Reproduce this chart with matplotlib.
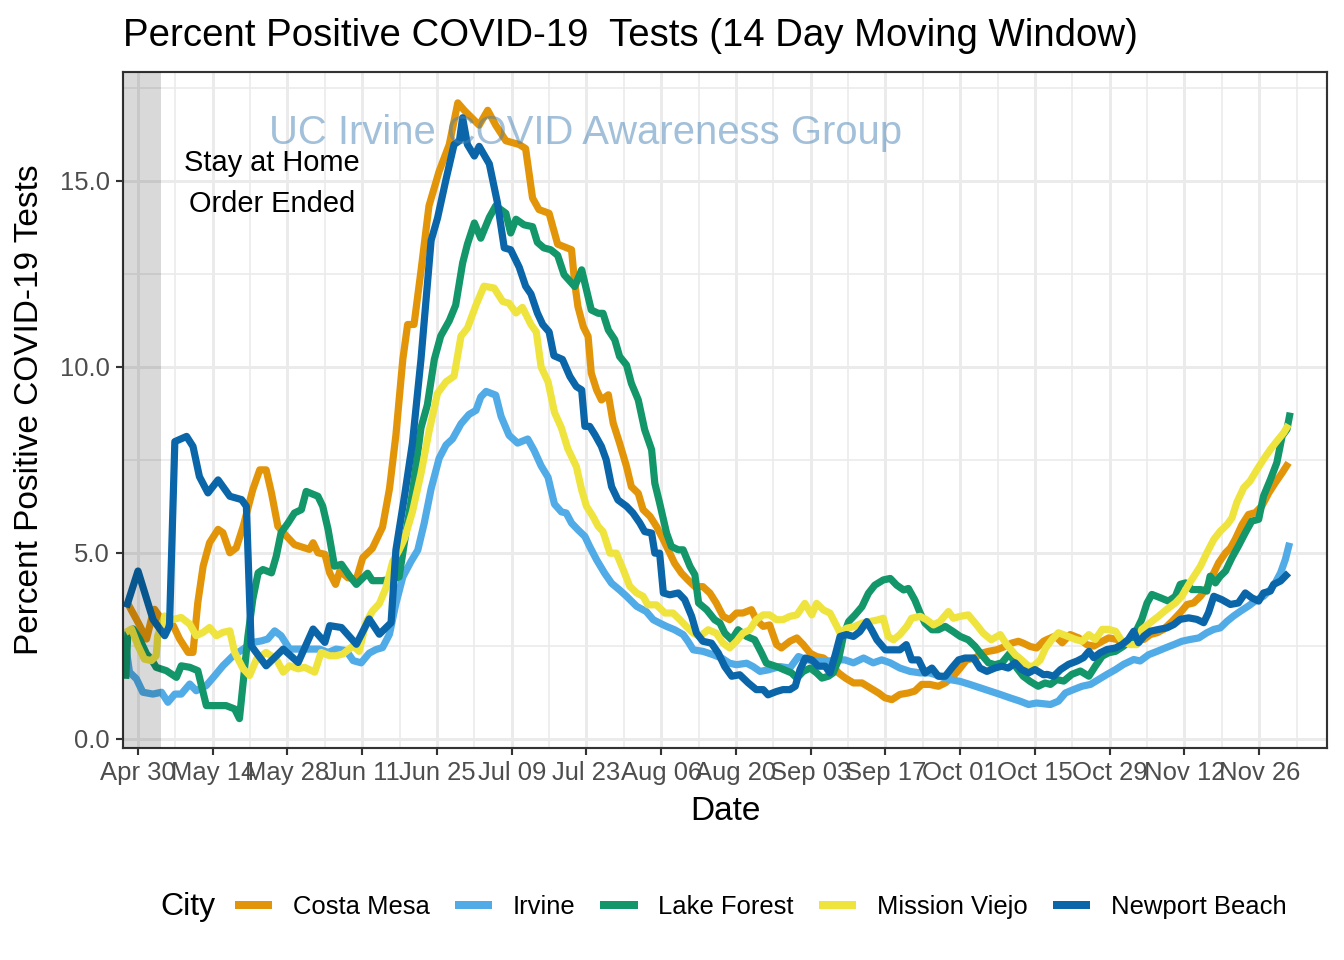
import numpy as np
import pandas as pd
import matplotlib
matplotlib.use('Agg')
import matplotlib.pyplot as plt
import matplotlib.dates as mdates
from matplotlib.lines import Line2D
from matplotlib.ticker import FixedLocator

plt.rcParams['font.family'] = ['Liberation Sans', 'DejaVu Sans']

# days are counted from Apr 30 2020 (first labelled tick)
BASE = pd.Timestamp('2020-04-30')
ORDER_END = pd.Timestamp('2020-05-04 06:00')

cities = ['Costa Mesa', 'Irvine', 'Lake Forest', 'Mission Viejo', 'Newport Beach']
city_colors = ['#E3950A', '#50ABE6', '#12966A', '#EFE33E', '#0A66A8']

costa_mesa_day = [-2.2, 0, 1.6, 2.5, 3.1, 4.4, 6.6, 7.8, 9.4, 10.3, 11.2, 12.2, 13.4, 15.0, 15.9,
                  17.2, 18.4, 19.7, 20.6, 21.5, 22.8, 24.0, 25.0, 26.2, 27.8, 29.3, 31.2, 32.1,
                  32.8, 33.7, 35.0, 35.9, 37.0, 37.8, 39.3, 40.9,
                  42.1, 43.9, 45.8, 47.1, 48.3, 49.6, 50.5, 51.7, 53.0, 54.5, 56.4, 58.3, 59.9,
                  61.1, 63.9, 65.5, 67.0, 68.9, 71.4, 72.6, 73.9, 75.1, 77.0, 78.6,
                  81.2, 81.8, 82.4, 83.4, 84.3, 84.9, 85.9, 86.8, 88.1, 89.0, 90.2, 91.5, 92.4,
                  93.7, 94.6, 95.9, 97.1, 98.4, 99.6, 100.5, 101.8, 103.0, 104.3, 105.8, 107.1,
                  108.3, 109.6, 110.8, 112.1, 113.3, 114.9, 115.8, 117.1, 118.3, 119.6, 120.5,
                  122.1, 123.4, 124.6, 125.9, 127.1, 128.4, 129.9, 131.2, 132.5, 134.0, 135.6,
                  137.1, 138.7, 139.9, 141.2, 142.7, 144.3, 145.5, 146.8, 148.3, 149.9, 151.2,
                  152.7, 154.0, 155.2, 156.8, 158.0, 159.3, 160.8, 162.4, 163.6, 164.9, 165.8,
                  167.1, 168.3, 169.6, 170.3, 171.8, 173.1, 174.6, 176.2, 177.7, 179.0, 180.6,
                  181.8, 183.4, 184.6, 185.9, 187.1, 188.4, 189.6, 190.9, 192.1, 193.7, 195.2,
                  196.5, 197.7, 199.0, 200.2, 201.2, 202.4, 203.7, 204.6, 205.5, 206.8, 208.0,
                  209.3, 210.5, 211.8, 213.0, 214.3, 215.5]
costa_mesa_pct = [3.71, 3.13, 2.68, 3.21, 3.48, 3.21, 3.04, 2.68, 2.32, 2.32, 3.66, 4.64, 5.27, 5.63,
                  5.54, 5.0, 5.13, 5.71, 6.21, 6.7, 7.23, 7.23, 6.61, 5.71, 5.45, 5.22, 5.13, 5.09,
                  5.27, 5.0, 4.96, 4.46, 4.15, 4.51, 4.33, 4.29,
                  4.87, 5.12, 5.69, 6.72, 8.16, 10.2, 11.14, 11.14, 12.58, 14.33, 15.26, 15.98,
                  17.1, 16.9, 16.5, 16.9, 16.5, 16.08, 15.98, 15.87, 14.54, 14.23, 14.13, 13.3,
                  13.15, 12.25, 11.62, 11.08, 10.82, 9.83, 9.38, 9.11, 9.25, 8.49, 7.95, 7.32,
                  6.78, 6.6, 6.16, 5.98, 5.71, 5.35, 4.99, 4.72, 4.45, 4.27, 4.09, 4.09, 3.92,
                  3.65, 3.29, 3.2, 3.38, 3.38, 3.47, 3.2, 3.02, 3.06, 2.53, 2.44,
                  2.62, 2.71, 2.53, 2.3, 2.21, 2.17, 1.99, 1.77, 1.63, 1.5, 1.5,
                  1.37, 1.23, 1.1, 1.05, 1.19, 1.23, 1.28, 1.46, 1.46, 1.41, 1.5,
                  1.68, 1.9, 2.12, 2.17, 2.3, 2.35, 2.39, 2.48, 2.57, 2.62, 2.57,
                  2.48, 2.44, 2.62, 2.67, 2.76, 2.58, 2.8, 2.71, 2.53, 2.49, 2.62,
                  2.71, 2.67, 2.53, 2.67, 2.71, 2.67, 2.8, 2.85, 2.94, 3.16, 3.39,
                  3.61, 3.65, 3.83, 4.06, 4.37, 4.73, 5.0, 5.13, 5.36, 5.76, 6.03,
                  6.08, 6.26, 6.61, 6.88, 7.15, 7.42]

irvine_day = [-2.3, -1.6, -0.3, 0.9, 2.8, 4.4, 5.6, 6.9, 8.1, 9.7, 10.9, 12.8, 14.4, 15.9, 17.8,
              19.7, 21.5, 23.1, 24.3, 25.6, 26.8, 28.4, 30.3, 32.1, 34.0, 35.6, 37.1, 39.0, 40.3,
              41.8, 43.3, 44.6, 45.8, 47.1, 48.3, 49.6, 51.1, 52.4, 53.6, 54.9, 56.4, 57.7, 58.9,
              60.5, 62.0, 63.3, 64.2, 65.2, 67.0, 68.0, 69.5, 71.1, 73.0, 74.2, 75.5, 76.8, 78.0,
              79.3, 80.2, 81.2, 82.4, 83.7, 84.6, 85.9, 87.4, 88.7, 90.2, 91.5, 93.4, 95.2, 96.5,
              97.7, 99.0, 100.5, 102.1, 103.0, 104.0, 105.8, 107.7, 109.3, 110.8, 112.1, 114.0,
              115.2, 116.5, 118.0, 120.2, 122.1, 123.7, 125.3, 127.1, 129.0, 130.9, 132.4, 134.0,
              135.9, 137.7, 139.3, 140.9, 142.7, 144.6, 146.5, 148.3, 150.2, 152.1, 154.0, 155.8,
              157.7, 159.6, 161.5, 163.3, 165.2, 166.8, 168.3, 170.9, 172.4, 173.7, 175.2, 176.8,
              178.4, 179.9, 181.5, 183.1, 184.6, 186.5, 187.7, 189.3, 190.9, 192.4, 194.0, 195.5,
              197.1, 198.7, 200.2, 201.5, 202.7, 204.0, 205.2, 206.5, 208.0, 209.6, 210.8, 212.1,
              213.0, 214.0, 214.9, 215.7]
irvine_pct = [2.5, 1.79, 1.61, 1.25, 1.2, 1.25, 0.98, 1.2, 1.2, 1.47, 1.29, 1.43, 1.7, 1.96, 2.23,
              2.41, 2.59, 2.63, 2.68, 2.9, 2.77, 2.41, 2.41, 2.41, 2.41, 2.32, 2.41, 2.37, 2.1,
              2.04, 2.3, 2.4, 2.45, 2.81, 3.63, 4.35, 4.76, 5.07, 5.79, 6.72, 7.54, 7.9, 8.06,
              8.47, 8.72, 8.83, 9.19, 9.34, 9.24, 8.67, 8.16, 7.95, 8.06, 7.75, 7.34, 7.03, 6.31,
              6.1, 6.07, 5.8, 5.62, 5.44, 5.17, 4.81, 4.45, 4.18, 4.0, 3.83, 3.56, 3.42, 3.2,
              3.11, 3.02, 2.93, 2.8, 2.62, 2.39, 2.35, 2.26, 2.17, 2.03, 1.99, 2.03,
              1.94, 1.81, 1.85, 1.94, 1.9, 2.21, 2.12, 2.08, 2.08, 2.12, 2.12, 2.04,
              2.17, 2.04, 2.12, 2.04, 1.9, 1.81, 1.77, 1.77, 1.68, 1.59, 1.54, 1.46,
              1.37, 1.28, 1.19, 1.1, 1.01, 0.92, 0.96, 0.92, 1.01, 1.23, 1.32, 1.41,
              1.46, 1.59, 1.73, 1.86, 2.0, 2.13, 2.09, 2.26, 2.35, 2.44, 2.53, 2.62,
              2.67, 2.71, 2.85, 2.94, 2.98, 3.16, 3.3, 3.43, 3.57, 3.74, 3.83, 4.01,
              4.19, 4.46, 4.82, 5.27]

lake_forest_day = [-2.3, -1.9, -0.9, 0.3, 1.6, 2.5, 3.4, 5.3, 7.2, 8.1, 9.7, 11.2, 12.8, 14.7,
                   16.5, 18.1, 19.0, 19.7, 20.6, 21.5, 22.5, 23.4, 25.0, 25.9, 26.8, 28.1, 29.3,
                   30.6, 31.5, 33.7, 34.6, 35.6, 36.8, 38.1, 39.6, 40.9,
                   43.0, 43.9, 45.8, 47.7, 48.9, 49.9, 51.4, 53.0, 54.2, 55.5, 56.7, 58.3, 59.5,
                   60.8, 61.7, 63.0, 64.2, 65.8, 67.0, 68.9, 69.8, 70.8, 72.3, 73.9, 74.8, 76.0,
                   77.3, 78.6, 79.8, 81.8, 83.1, 84.0, 84.9, 86.2, 87.1, 88.1, 89.3, 90.2, 91.5,
                   92.4, 93.7, 94.9, 96.2, 96.8, 97.7, 99.0, 99.9, 101.2, 102.1, 103.4, 104.3,
                   105.0, 106.5, 108.0, 109.0, 109.9, 111.2, 112.4, 114.0, 115.5, 116.8, 117.7,
                   119.6, 121.1, 122.4, 123.4, 124.6, 125.9, 127.1, 128.1, 129.3, 130.2, 131.2,
                   132.1, 133.1, 134.3, 135.6, 136.8, 138.0, 139.6, 140.9, 142.1, 143.4, 144.3,
                   145.5, 146.5, 147.4, 148.7, 149.9, 151.2, 152.7, 154.0, 155.5, 156.8, 158.0,
                   159.3, 160.5, 161.8, 163.3, 164.6, 165.8, 167.1, 168.6, 169.9, 170.9, 172.1,
                   173.4, 174.9, 176.5, 178.1, 179.3, 180.6, 181.8, 183.1, 184.6, 185.9, 187.1,
                   188.0, 189.0, 189.9, 191.5, 193.0, 194.3, 195.2, 196.2, 197.4, 199.0, 200.2,
                   200.8, 201.8, 202.7, 203.7, 204.9, 206.1, 207.4, 208.6, 209.9, 210.8, 212.1,
                   213.3, 214.3, 215.2, 215.8]
lake_forest_pct = [1.61, 2.86, 2.95, 2.68, 2.28, 2.14, 1.92, 1.83, 1.65, 1.96, 1.92, 1.83, 0.89,
                   0.89, 0.89, 0.8, 0.54, 1.52, 2.77, 3.75, 4.46, 4.55, 4.46, 4.91, 5.54, 5.8,
                   6.07, 6.16, 6.65, 6.52, 6.25, 5.63, 4.64, 4.69, 4.38, 4.15,
                   4.45, 4.25, 4.25, 4.3, 4.35, 5.28, 6.62, 8.36, 8.98, 10.2, 10.83, 11.24, 11.66,
                   12.79, 13.3, 13.87, 13.46, 14.02, 14.33, 14.13, 13.6, 13.97, 13.82, 13.77,
                   13.35, 13.2, 13.15, 13.0, 12.48, 12.16, 12.61, 12.07, 11.53, 11.44, 11.44,
                   10.99, 10.73, 10.28, 10.05, 9.56, 9.11, 8.31, 7.77, 6.87, 6.34, 5.53, 5.17,
                   5.08, 5.08, 4.63, 4.41, 3.65, 3.47, 3.2, 3.11, 2.84, 2.66, 2.93, 2.75, 2.66,
                   2.3, 2.03, 1.94, 1.85, 1.77, 1.63, 1.81, 1.9, 1.77, 1.63, 1.68, 1.77, 2.12,
                   2.75, 3.15, 3.33, 3.55, 3.91, 4.13, 4.27, 4.31, 4.13, 4.0, 4.04, 3.73, 3.38,
                   3.11, 2.93, 2.93, 3.02, 2.88, 2.75, 2.66, 2.48, 2.26, 2.04, 1.99, 2.04, 2.3,
                   1.9, 1.68, 1.54, 1.41, 1.5, 1.46, 1.59, 1.55, 1.73, 1.82, 1.68, 1.95, 2.22,
                   2.31, 2.35, 2.49, 2.67, 2.94, 3.21, 3.65, 3.88, 3.79, 3.7, 3.83, 4.15, 4.19,
                   4.01, 4.01, 3.97, 4.37, 4.19, 4.37, 4.51, 4.87, 5.18, 5.54, 5.85, 5.9, 6.52,
                   6.97, 7.42, 8.14, 8.32, 8.77]

mission_viejo_day = [-2.3, -1.2, 0, 1.2, 2.5, 3.4, 3.7, 5.0, 6.6, 8.1, 9.7, 10.9, 12.2, 13.4, 14.7,
                     15.9, 17.2, 18.1, 19.7, 20.9, 22.2, 24.0, 25.9, 27.2, 28.4, 30.0, 31.2, 33.1,
                     34.3, 35.9, 37.1, 38.4, 40.3,
                     41.4, 42.7, 43.9, 45.2, 46.4, 47.7, 48.9, 49.9, 51.4, 53.0, 54.5, 56.1, 57.7,
                     59.2, 60.5, 61.7, 63.3, 64.8, 66.7, 68.3, 69.5, 70.8, 72.0, 73.6, 74.6, 75.5,
                     76.8, 78.0, 79.3, 80.5, 82.1, 83.1, 84.0, 85.2, 86.2, 87.1, 88.4, 89.6, 90.9,
                     92.1, 93.4, 94.6, 95.5, 97.1, 98.7, 100.2, 101.5, 102.7, 104.0, 105.2, 106.8,
                     108.3, 109.6, 110.8, 112.1, 113.3, 114.6, 115.8, 117.1, 118.3, 119.6, 120.8,
                     122.1, 123.4, 124.9, 126.2, 127.1, 128.4, 129.6, 130.9, 131.5, 132.7, 134.3,
                     135.6, 137.1, 138.7, 139.6, 140.5, 141.5, 142.7, 144.0, 144.9, 146.5, 147.7,
                     149.0, 150.2, 151.8, 152.7, 154.0, 155.5, 156.8, 158.3, 159.8, 161.5, 162.7,
                     164.3, 165.5, 166.8, 167.7, 169.0, 170.0, 171.2, 172.4, 174.0, 175.6, 176.8,
                     178.1, 179.3, 180.6, 181.8, 183.1, 184.3, 185.9, 187.1, 188.0, 189.6, 191.2,
                     192.7, 194.3, 195.5, 196.8, 198.0, 199.0, 200.2, 201.5, 202.7, 204.0, 204.9,
                     205.8, 207.1, 208.3, 209.6, 210.8, 212.1, 213.3, 214.6, 215.5]
mission_viejo_pct = [2.86, 2.95, 2.5, 2.14, 2.1, 2.23, 2.77, 3.3, 3.21, 3.26, 3.08, 2.77, 2.86, 2.99,
                     2.77, 2.86, 2.9, 2.32, 1.88, 1.7, 2.14, 2.32, 2.14, 1.79, 1.96, 1.88, 1.92,
                     1.79, 2.32, 2.23, 2.23, 2.28, 2.5,
                     2.35, 3.12, 3.43, 3.63, 4.04, 4.76, 5.07, 5.38, 6.1, 7.13, 8.26, 9.29, 9.6,
                     9.75, 10.83, 11.04, 11.66, 12.17, 12.12, 11.76, 11.71, 11.45, 11.6, 11.14,
                     10.94, 10.0, 9.6, 8.78, 8.36, 7.8, 7.32, 6.69, 6.25, 5.98, 5.71, 5.57, 4.99,
                     4.99, 4.54, 4.1, 3.92, 3.83, 3.6, 3.6, 3.38, 3.38, 3.2, 3.02, 2.84, 2.75,
                     2.93, 2.84, 2.57, 2.44, 2.62, 2.84, 2.93, 3.2, 3.33, 3.33, 3.2, 3.2,
                     3.29, 3.33, 3.64, 3.33, 3.64, 3.46, 3.38, 3.02, 2.84, 2.97, 3.02,
                     3.11, 3.15, 3.2, 3.24, 2.75, 2.66, 2.8, 3.02, 3.24, 3.29, 3.2,
                     3.06, 3.15, 3.42, 3.24, 3.29, 3.33, 3.11, 2.84, 2.66, 2.8, 2.53,
                     2.26, 2.12, 1.95, 1.95, 2.12, 2.44, 2.67, 2.85, 2.76, 2.67, 2.62,
                     2.8, 2.67, 2.94, 2.94, 2.89, 2.62, 2.53, 2.53, 2.94, 3.12, 3.3,
                     3.48, 3.65, 3.83, 4.15, 4.42, 4.64, 5.0, 5.36, 5.58, 5.76, 5.94,
                     6.35, 6.75, 6.93, 7.24, 7.51, 7.78, 8.0, 8.23, 8.45]

newport_beach_day = [-2.2, 0, 2.8, 5.0, 5.9, 6.9, 9.1, 10.3, 11.5, 13.1, 15.0, 17.2, 19.4, 20.3,
                     21.2, 24.0, 27.2, 30.0, 32.8, 35.0, 35.9, 38.1, 40.9,
                     43.3, 45.2, 47.4, 48.3, 49.9, 51.4, 53.0, 54.9, 56.1, 57.7, 59.2, 60.2, 60.8,
                     61.7, 63.0, 63.9, 65.8, 67.3, 68.6, 69.8, 71.4, 72.6, 73.6, 74.8, 75.8, 77.0,
                     77.9, 79.5, 80.9, 82.1, 83.1, 83.7, 84.6, 85.6, 86.8, 87.7, 88.7, 89.9, 91.5,
                     92.7, 94.0, 94.9, 96.2, 96.8, 97.7, 98.4, 99.6, 101.2, 102.4, 103.7, 104.6,
                     105.8, 107.4, 108.7, 109.9, 111.2, 112.7, 114.3, 115.8, 117.1, 118.0, 119.6,
                     120.8, 122.1, 123.1, 124.0, 125.0, 126.2, 127.4, 128.7, 129.6, 130.6, 131.5,
                     132.7, 134.0, 135.2, 136.5, 137.4, 138.4, 140.0, 141.2, 142.7, 143.9, 144.9,
                     146.2, 147.4, 148.7, 149.9, 151.2, 152.4, 153.7, 154.9, 156.5, 157.7, 159.0,
                     160.5, 161.8, 163.0, 164.3, 165.5, 166.8, 168.0, 169.6, 170.3, 171.5, 172.8,
                     174.3, 175.9, 177.1, 178.1, 179.0, 180.2, 181.5, 183.1, 184.3, 185.5, 186.5,
                     187.4, 188.4, 189.6, 191.2, 192.7, 194.0, 195.2, 196.8, 198.3, 199.6, 200.5,
                     201.5, 203.0, 204.6, 206.1, 207.4, 208.6, 209.9, 210.8, 212.1, 212.7, 214.0,
                     215.5]
newport_beach_pct = [3.53, 4.51, 3.21, 2.77, 3.04, 7.99, 8.13, 7.86, 7.05, 6.61, 6.96, 6.52, 6.43,
                     6.25, 2.5, 1.96, 2.41, 2.05, 2.95, 2.59, 3.04, 2.99, 2.54,
                     3.22, 2.81, 3.12, 5.07, 6.51, 7.95, 10.2, 13.4, 14.0, 15.05, 15.98, 16.08,
                     16.7, 15.98, 15.67, 15.93, 15.46, 14.43, 13.2, 13.15, 12.68, 12.17, 11.96,
                     11.45, 11.14, 10.94, 10.3, 10.2, 9.74, 9.47, 9.38, 8.4, 8.4, 8.17, 7.86, 7.5,
                     6.78, 6.42, 6.25, 6.07, 5.8, 5.57, 5.53, 4.99, 4.99, 3.92, 3.87, 3.92, 3.74,
                     3.29, 2.84, 2.62, 2.57, 2.3, 1.94, 1.68, 1.72, 1.5, 1.32, 1.32, 1.18, 1.27,
                     1.32, 1.32, 1.41, 1.86, 2.17, 2.12, 1.95, 1.95, 1.77, 2.26, 2.75,
                     2.8, 2.75, 2.88, 3.15, 2.93, 2.66, 2.39, 2.39, 2.39, 2.53, 2.12,
                     2.12, 1.77, 1.9, 1.68, 1.68, 1.9, 2.12, 2.17, 2.17, 1.9, 1.81,
                     1.9, 1.95, 1.9, 2.04, 1.86, 1.77, 1.86, 1.72, 1.73, 1.68, 1.86,
                     2.0, 2.09, 2.18, 2.35, 2.18, 2.31, 2.4, 2.44, 2.53, 2.67, 2.89,
                     2.58, 2.76, 2.89, 2.94, 2.98, 3.07, 3.21, 3.25, 3.21, 3.12, 3.39,
                     3.83, 3.74, 3.61, 3.65, 3.92, 3.79, 3.7, 3.92, 3.97, 4.15, 4.24,
                     4.46]

series_days = [costa_mesa_day, irvine_day, lake_forest_day, mission_viejo_day, newport_beach_day]
series_pct = [costa_mesa_pct, irvine_pct, lake_forest_pct, mission_viejo_pct, newport_beach_pct]


def to_dates(days):
    return (BASE + pd.to_timedelta(np.asarray(days, dtype=float), unit='D')).to_numpy()


fig = plt.figure(figsize=(7, 5), dpi=192)
ax = fig.add_axes([123 / 1344, 1 - 748 / 960, 1204 / 1344, 676 / 960])

for days, pct, color in zip(series_days, series_pct, city_colors):
    ax.plot(to_dates(days), pct, color=color, lw=2.7, solid_joinstyle='round',
            solid_capstyle='butt', zorder=2)

x_left = BASE + pd.Timedelta(days=-2.81)
x_right = BASE + pd.Timedelta(days=222.7)
ax.set_xlim(x_left, x_right)
ax.set_ylim(-0.25, 17.93)

# shaded stay-at-home period, drawn over the lines like the original
ax.axvspan(x_left, ORDER_END, color='black', alpha=0.15, lw=0, zorder=3)

major_dates = pd.date_range('2020-04-30', '2020-11-26', freq='14D')
minor_dates = pd.date_range('2020-05-07', '2020-12-03', freq='14D')
ax.xaxis.set_major_locator(FixedLocator(mdates.date2num(major_dates.to_pydatetime())))
ax.xaxis.set_minor_locator(FixedLocator(mdates.date2num(minor_dates.to_pydatetime())))
ax.xaxis.set_major_formatter(mdates.DateFormatter('%b %d'))
ax.set_yticks([0, 5, 10, 15])
ax.set_yticklabels(['0.0', '5.0', '10.0', '15.0'])
ax.set_yticks([2.5, 7.5, 12.5, 17.5], minor=True)

ax.grid(which='major', color='#EBEBEB', lw=1.1, zorder=0)
ax.grid(which='minor', color='#EBEBEB', lw=0.6, zorder=0)
ax.set_axisbelow(True)
for s in ax.spines.values():
    s.set_color('#333333')
    s.set_linewidth(0.8)
ax.tick_params(which='major', length=2.75, width=0.8, color='#333333', labelcolor='#4D4D4D',
               labelsize=9.6, pad=2.2)
ax.tick_params(which='minor', length=0)

ax.text(BASE + pd.Timedelta(days=25.1), 15.28, 'Stay at Home', ha='center', va='baseline',
        fontsize=10.9, color='black', zorder=5)
ax.text(BASE + pd.Timedelta(days=25.1), 14.17, 'Order Ended', ha='center', va='baseline',
        fontsize=10.9, color='black', zorder=5)
ax.text(BASE + pd.Timedelta(days=83.8), 16.0, 'UC Irvine COVID Awareness Group', ha='center',
        va='baseline', fontsize=15, color='steelblue', alpha=0.5, zorder=5)

fig.text(123 / 1344, 1 - 46 / 960, 'Percent Positive COVID-19  Tests (14 Day Moving Window)',
         ha='left', va='baseline', fontsize=14.4)
fig.text(725 / 1344, 1 - 811 / 960, 'Date', ha='center', va='center', fontsize=12.5)
fig.text(30 / 1344, 1 - 410 / 960, 'Percent Positive COVID-19 Tests', ha='center',
         va='center', rotation=90, fontsize=12.5)

fig.text(160 / 1344, 1 - 907 / 960, 'City', ha='left', va='center', fontsize=12)
handles = [Line2D([], [], color=c, lw=3.0, solid_capstyle='butt') for c in city_colors]
fig.legend(handles, cities, loc='center left', bbox_to_anchor=(235 / 1344, 1 - 907 / 960),
           ncol=5, frameon=False, fontsize=9.6, handlelength=1.45, handletextpad=0.82,
           columnspacing=0.97, borderpad=0, borderaxespad=0)

fig.savefig('out.png', dpi=192)
